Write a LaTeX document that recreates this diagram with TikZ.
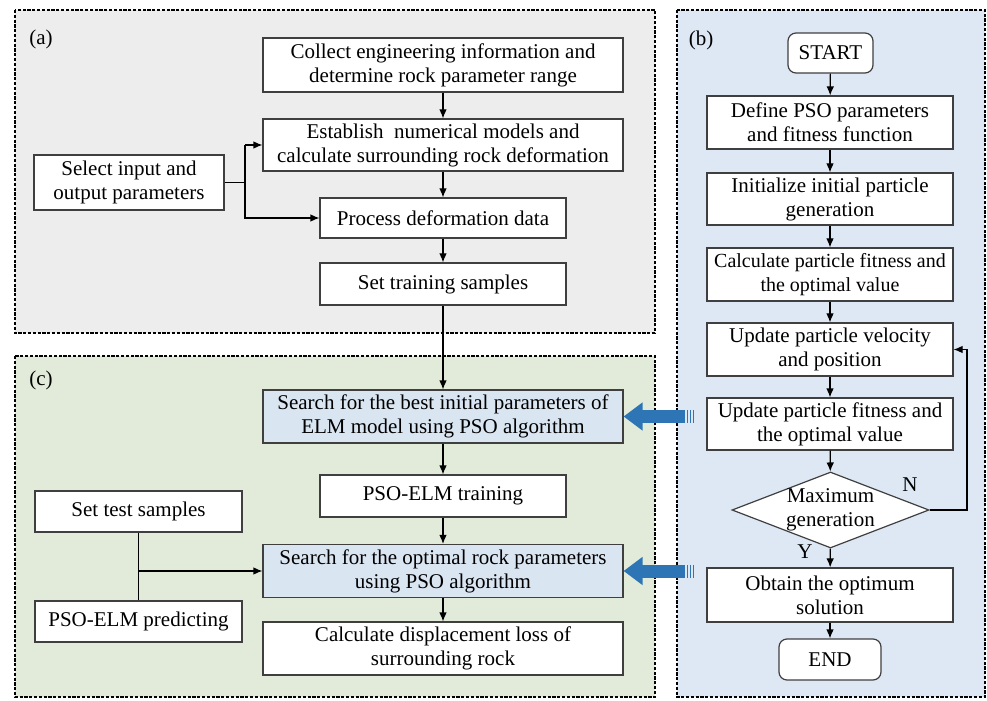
\documentclass[tikz,border=0pt]{standalone}
\usepackage{fontspec}
\setmainfont{Liberation Serif}
\usetikzlibrary{shapes.geometric,arrows.meta,calc}

\definecolor{panelgray}{HTML}{EDEDED}
\definecolor{panelgreen}{HTML}{E2EBD9}
\definecolor{panelblue}{HTML}{DDE8F4}
\definecolor{searchblue}{HTML}{DAE5F2}
\definecolor{psoblue}{HTML}{2E75B6}
\definecolor{edge}{HTML}{3F3F3F}

\tikzset{
  panel/.style={draw=black, line width=1pt, dash pattern=on 1.6pt off 0.8pt},
  box/.style={draw=edge, line width=0.6pt, fill=white, align=center, inner sep=0pt,
    font=\fontsize{10.5}{12}\selectfont},
  wide/.style={box, minimum width=180pt, minimum height=26.5pt},
  mid/.style={box, minimum width=123pt, minimum height=21pt},
  side/.style={box, minimum width=103.5pt, minimum height=20.5pt},
  bstep/.style={box, minimum width=123pt, minimum height=26.5pt},
  term/.style={box, rounded corners=4pt, minimum height=20pt},
  flow/.style={draw=black, line width=0.6pt, -{Latex[length=4.5pt,width=3.8pt]}},
  pso/.style={draw=psoblue, line width=6.5pt, -{Triangle[length=9.5pt,width=13.5pt]}},
  tag/.style={font=\fontsize{10.5}{12}\selectfont, inner sep=0pt}
}

\begin{document}
\begin{tikzpicture}[x=0.5pt, y=0.5pt]
  \useasboundingbox (0,0) rectangle (987,-701);

  % Panels
  \fill[panelgray] (15,-10) rectangle (655,-333);
  \draw[panel] (15,-10) rectangle (655,-333);
  \fill[panelgreen] (15,-356) rectangle (655,-697);
  \draw[panel] (15,-356) rectangle (655,-697);
  \fill[panelblue] (677,-10) rectangle (985,-697);
  \draw[panel] (677,-10) rectangle (985,-697);
  \node[tag] (taga) at (41,-39) {(a)};
  \node[tag] (tagb) at (701,-40) {(b)};
  \node[tag] (tagc) at (41,-380) {(c)};

  % (a) samples
  \node[wide, minimum height=27pt] (collect) at (443,-65) {Collect engineering information and\\determine rock parameter range};
  \node[wide, minimum height=26pt] (establish) at (443,-145) {Establish\ \ numerical models and\\calculate surrounding rock deformation};
  \node[box, minimum width=95pt, minimum height=27.5pt] (select) at (129,-182.5) {Select input and\\output parameters};
  \node[mid, minimum height=20pt] (process) at (443,-218) {Process deformation data};
  \node[mid] (train) at (443,-284) {Set training samples};
  \coordinate (split) at (245,0);

  \draw[flow] (collect) -- (establish);
  \draw[flow] (establish) -- (process);
  \draw[flow] (process) -- (train);
  \draw[line width=0.6pt] (select.east) -- (select.east -| split);
  \draw[flow] (establish.west -| split) -- (establish.west);
  \draw[flow] (establish.west -| split) |- (process.west);

  % (c) inversion
  \node[wide, fill=searchblue] (search1) at (443,-416.5) {Search for the best initial parameters of\\ELM model using PSO algorithm};
  \node[mid] (training) at (443,-496) {PSO-ELM training};
  \node[wide, fill=searchblue] (search2) at (443,-571) {Search for the optimal rock parameters\\using PSO algorithm};
  \node[wide] (calc) at (443,-648.5) {Calculate displacement loss of\\surrounding rock};
  \node[side] (test) at (138.5,-511.5) {Set test samples};
  \node[side] (predict) at (138.5,-621.5) {PSO-ELM predicting};

  \draw[flow] (train) -- (search1);
  \draw[flow] (search1) -- (training);
  \draw[flow] (training) -- (search2);
  \draw[flow] (search2) -- (calc);
  \draw[line width=0.6pt] (test) -- (predict);
  \draw[flow] (test.south |- search2.west) -- (search2.west);

  % (b) PSO
  \node[term, minimum width=42.5pt] (start) at (830.5,-53) {START};
  \node[bstep] (define) at (830,-122.5) {Define PSO parameters\\and fitness function};
  \node[bstep, minimum height=26pt] (init) at (830,-199) {Initialize initial particle\\generation};
  \node[bstep, font=\fontsize{10}{12}\selectfont] (calcfit) at (830,-274.5) {Calculate particle fitness and\\the optimal value};
  \node[bstep] (updvel) at (830,-349.5) {Update particle velocity\\and position};
  \node[bstep, minimum height=26pt] (updfit) at (830,-424) {Update particle fitness and\\the optimal value};
  \node[box, diamond, aspect=2.6, inner sep=-1.5pt, minimum width=98.5pt, minimum height=38pt] (decide) at (830.5,-510) {Maximum\\generation};
  \node[bstep, minimum height=27pt] (obtain) at (830,-595) {Obtain the optimum\\solution};
  \node[term, minimum width=51pt, minimum height=20.5pt] (end) at (830,-659.5) {END};
  \node[tag] (no) at (910,-485) {N};
  \node[tag] (yes) at (805,-552) {Y};
  \coordinate (loop) at (967,0);

  \draw[flow] (start) -- (define);
  \draw[flow] (define) -- (init);
  \draw[flow] (init) -- (calcfit);
  \draw[flow] (calcfit) -- (updvel);
  \draw[flow] (updvel) -- (updfit);
  \draw[flow] (updfit) -- (decide);
  \draw[flow] (decide) -- (obtain);
  \draw[flow] (obtain) -- (end);
  \draw[flow] (decide.east) -- (decide.east -| loop) |- (updvel.east);

  % PSO feeds (c)
  \coordinate (tail) at (685,0);
  \foreach \s in {search1, search2} {
    \draw[pso] (\s.east -| tail) -- (\s.east);
    \foreach \d in {1.5,4.5,7.5}
      \fill[psoblue] ($(\s.east -| tail)+(\d,-6.5)$) rectangle ++(1.5,13);
  }
\end{tikzpicture}
\end{document}
